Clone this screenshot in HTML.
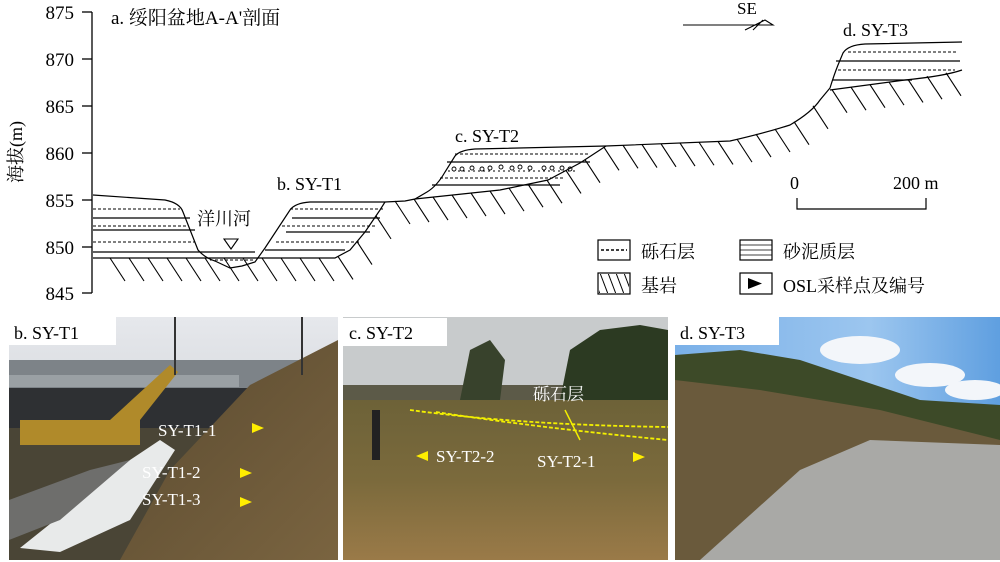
<!DOCTYPE html>
<html><head><meta charset="utf-8"><style>
body{margin:0;width:1000px;height:562px;background:#fff;overflow:hidden}
svg{display:block}
text{font-family:"Liberation Serif","Noto Serif CJK SC","Noto Sans CJK SC",serif;fill:#000}
</style></head><body>
<svg width="1000" height="562" viewBox="0 0 1000 562">
<defs>
<pattern id="hat" width="8" height="21" patternUnits="userSpaceOnUse">
<line x1="0" y1="0" x2="8" y2="21" stroke="#000" stroke-width="1"/>
</pattern>
<linearGradient id="skyb" x1="0" y1="0" x2="0" y2="1"><stop offset="0" stop-color="#e6e8ec"/><stop offset="1" stop-color="#bfc3c8"/></linearGradient>
<linearGradient id="skyd" x1="0" y1="0" x2="1" y2="0"><stop offset="0" stop-color="#7ab0e8"/><stop offset="0.6" stop-color="#9cc6ef"/><stop offset="1" stop-color="#5f9fe0"/></linearGradient>
<linearGradient id="soilb" x1="0" y1="0" x2="1" y2="1"><stop offset="0" stop-color="#5a4a30"/><stop offset="1" stop-color="#7a6440"/></linearGradient>
<linearGradient id="soilc" x1="0" y1="0" x2="0" y2="1"><stop offset="0" stop-color="#6d6238"/><stop offset="0.5" stop-color="#7b6a3c"/><stop offset="1" stop-color="#9a7a48"/></linearGradient>
</defs>
<!-- axis -->
<g stroke="#000" stroke-width="1.3" fill="none">
<line x1="92" y1="12" x2="92" y2="293"/>
<line x1="82" y1="12" x2="92" y2="12"/><line x1="82" y1="59" x2="92" y2="59"/><line x1="82" y1="106" x2="92" y2="106"/><line x1="82" y1="153" x2="92" y2="153"/><line x1="82" y1="200" x2="92" y2="200"/><line x1="82" y1="247" x2="92" y2="247"/><line x1="82" y1="293" x2="92" y2="293"/>
</g>
<g font-size="19" text-anchor="end">
<text x="74" y="19">875</text><text x="74" y="66">870</text><text x="74" y="113">865</text><text x="74" y="160">860</text><text x="74" y="207">855</text><text x="74" y="254">850</text><text x="74" y="300">845</text>
</g>
<text font-size="18" transform="translate(22,152) rotate(-90)" text-anchor="middle">海拔(m)</text>
<text x="111" y="24" font-size="19">a. 绥阳盆地A-A'剖面</text>
<g id="hatches" stroke="#000" stroke-width="1.1"></g>
<!-- profile -->
<g stroke="#000" stroke-width="1.2" fill="none">
<path d="M93,195 L165,200 Q180,203 183,212 L198,250 Q205,258 215,261 L230,268 L242,266 L255,262 L265,248 L290,210 Q295,203 310,202 L385,202 L405,201 L415,199 L427,192 Q437,186 445,172 L455,156 Q460,150 475,149 L606,146 L730,141 Q765,133 790,125 Q812,112 820,100 L830,88 Q834,75 838,65 L843,53 Q848,45 865,44 L962,42"/>
<path d="M93,258 L335,258 L350,250 L365,232 L380,210 L385,202"/>
<path d="M415,199 L500,190 L548,180 L580,163 L606,146"/>
<path d="M830,90 L905,80 Q945,76 962,70"/>
<line x1="93" y1="252" x2="255" y2="252"/>
<line x1="93" y1="230" x2="195" y2="230"/><line x1="93" y1="218" x2="190" y2="218"/>
<line x1="265" y1="250" x2="345" y2="250"/><line x1="286" y1="232" x2="370" y2="232"/><line x1="292" y1="218" x2="380" y2="218"/>
<line x1="432" y1="185" x2="560" y2="185"/><line x1="447" y1="162" x2="590" y2="162"/>
<line x1="836" y1="61" x2="960" y2="61"/><line x1="833" y1="80" x2="912" y2="80"/>
</g>
<g stroke="#000" stroke-width="1" stroke-dasharray="3,2" fill="none">
<line x1="93" y1="209" x2="180" y2="209"/><line x1="93" y1="226" x2="188" y2="226"/><line x1="93" y1="242" x2="195" y2="242"/><line x1="210" y1="260" x2="255" y2="260"/>
<line x1="290" y1="209" x2="383" y2="209"/><line x1="282" y1="226" x2="375" y2="226"/><line x1="276" y1="242" x2="360" y2="242"/>
<line x1="455" y1="154" x2="590" y2="154"/><line x1="440" y1="178" x2="565" y2="178"/>
<line x1="848" y1="52" x2="958" y2="52"/><line x1="838" y1="70" x2="955" y2="70"/>
</g>
<g fill="none" stroke="#000" stroke-width="0.9">
<circle cx="454" cy="169" r="2"/><circle cx="462" cy="169" r="2"/><circle cx="472" cy="168" r="2"/><circle cx="482" cy="169" r="2"/><circle cx="490" cy="168" r="2"/><circle cx="501" cy="167" r="2"/><circle cx="512" cy="168" r="2"/><circle cx="520" cy="167" r="2"/><circle cx="530" cy="168" r="2"/><circle cx="544" cy="168" r="2"/><circle cx="552" cy="168" r="2"/><circle cx="562" cy="168" r="2"/><circle cx="570" cy="169" r="2"/>
</g>
<line x1="448" y1="171" x2="578" y2="171" stroke="#000" stroke-dasharray="2,3"/>
<path d="M224,239 L238,239 L231,249 Z" fill="#fff" stroke="#000" stroke-width="1.1"/>
<text x="197" y="225" font-size="18">洋川河</text>
<text x="277" y="190" font-size="18">b. SY-T1</text>
<text x="455" y="142" font-size="18">c. SY-T2</text>
<text x="843" y="36" font-size="18">d. SY-T3</text>
<text x="737" y="14" font-size="17">SE</text>
<g stroke="#000" stroke-width="1.1" fill="none"><path d="M683,25 L773,25 L765,20 L745,30 M753,30 L763,20"/></g>
<text x="790" y="189" font-size="18">0</text><text x="893" y="189" font-size="18">200 m</text>
<path d="M797,198 L797,209 L926,209 L926,198" stroke="#000" stroke-width="1.2" fill="none"/>
<!-- legend -->
<g stroke="#000" stroke-width="1.2" fill="#fff">
<rect x="598" y="240" width="32" height="20"/><rect x="740" y="240" width="32" height="20"/>
<rect x="598" y="273" width="32" height="21"/><rect x="740" y="273" width="32" height="21"/>
</g>
<line x1="601" y1="250" x2="627" y2="250" stroke="#000" stroke-dasharray="3,2" stroke-width="1.5"/>
<g stroke="#000" stroke-width="0.8"><line x1="740" y1="245" x2="772" y2="245"/><line x1="740" y1="250" x2="772" y2="250"/><line x1="740" y1="255" x2="772" y2="255"/></g>
<rect x="599" y="274" width="30" height="19" fill="url(#hat)"/>
<path d="M748,278 L762,283.5 L748,289 Z" fill="#000"/>
<text x="641" y="258" font-size="18">砾石层</text><text x="783" y="258" font-size="18">砂泥质层</text>
<text x="641" y="292" font-size="18">基岩</text><text x="783" y="292" font-size="18">OSL采样点及编号</text>
<!-- photo b -->
<g>
<rect x="9" y="317" width="329" height="243" fill="url(#skyb)"/>
<rect x="9" y="360" width="329" height="30" fill="#7d8388"/>
<rect x="9" y="375" width="230" height="12" fill="#9aa0a4"/>
<rect x="9" y="388" width="260" height="40" fill="#2e3033"/>
<path d="M9,428 L338,428 L338,560 L9,560 Z" fill="#4a4536"/>
<path d="M170,470 L250,385 L338,340 L338,560 L120,560 Z" fill="url(#soilb)"/>
<path d="M20,548 L80,500 L130,460 L160,440 L175,450 L130,520 L60,552 Z" fill="#e8eaea"/>
<path d="M9,500 L90,470 L130,460 L60,520 L9,540 Z" fill="#6e6e6c"/>
<path d="M20,420 L110,420 L170,365 L178,372 L140,420 L140,445 L20,445 Z" fill="#b08a2a"/>
<line x1="175" y1="317" x2="175" y2="375" stroke="#333" stroke-width="2"/>
<line x1="302" y1="317" x2="302" y2="375" stroke="#333" stroke-width="2"/>
<rect x="9" y="317" width="107" height="28" fill="#fff"/>
<text x="14" y="339" font-size="18">b. SY-T1</text>
<g font-size="17"><text x="158" y="436" style="fill:#fff">SY-T1-1</text><text x="142" y="478" style="fill:#fff">SY-T1-2</text><text x="142" y="505" style="fill:#fff">SY-T1-3</text></g>
<g fill="#ffee00"><path d="M252,423 L264,428 L252,433Z"/><path d="M240,468 L252,473 L240,478Z"/><path d="M240,497 L252,502 L240,507Z"/></g>
</g>
<!-- photo c -->
<g>
<rect x="343" y="317" width="325" height="243" fill="#c8cbcc"/>
<rect x="343" y="385" width="325" height="20" fill="#5c5a48"/>
<path d="M560,400 L570,350 L600,330 L640,325 L668,330 L668,405 Z" fill="#2c3a22"/>
<path d="M460,400 L470,350 L490,340 L505,360 L500,400 Z" fill="#38422c"/>
<rect x="343" y="400" width="325" height="160" fill="url(#soilc)"/>
<rect x="343" y="318" width="104" height="28" fill="#fff"/>
<text x="349" y="339" font-size="18">c. SY-T2</text>
<g fill="none" stroke="#f3f000" stroke-width="1.8" stroke-dasharray="4,2"><path d="M410,410 Q520,425 668,427"/><path d="M436,404 Q540,420 668,432" transform="translate(0,8)"/></g>
<line x1="565" y1="410" x2="580" y2="440" stroke="#f3f000" stroke-width="1.5"/>
<text x="533" y="400" font-size="17" style="fill:#fff">砾石层</text>
<text x="436" y="462" font-size="17" style="fill:#fff">SY-T2-2</text><text x="537" y="467" font-size="17" style="fill:#fff">SY-T2-1</text>
<g fill="#ffee00"><path d="M428,451 L416,456 L428,461Z"/><path d="M633,452 L645,457 L633,462Z"/></g>
<rect x="372" y="410" width="8" height="50" fill="#222"/>
</g>
<!-- photo d -->
<g>
<rect x="675" y="317" width="325" height="243" fill="url(#skyd)"/>
<ellipse cx="860" cy="350" rx="40" ry="14" fill="#f3f6fa"/><ellipse cx="930" cy="375" rx="35" ry="12" fill="#f3f6fa"/><ellipse cx="975" cy="390" rx="30" ry="10" fill="#f3f6fa"/>
<path d="M675,355 L740,350 L800,360 L860,380 L920,400 L1000,405 L1000,440 L675,440 Z" fill="#3d4a28"/>
<path d="M675,380 L760,390 L880,410 L1000,440 L1000,560 L675,560 Z" fill="#6a5a3c"/>
<path d="M700,560 L800,470 L870,440 L1000,445 L1000,560 Z" fill="#a9a9a6"/>
<rect x="675" y="317" width="104" height="28" fill="#fff"/>
<text x="680" y="339" font-size="18">d. SY-T3</text>
</g>
</svg>
<script>
(function(){
var p=[[100,258],[335,258],[350,250],[365,232],[380,210],[385,202],[415,199],[500,190],[548,180],[580,163],[606,146],[730,141],[790,125],[820,100],[830,90],[905,80],[962,70]];
function f(x){for(var i=0;i<p.length-1;i++){if(x>=p[i][0]&&x<=p[i+1][0]){var t=(x-p[i][0])/(p[i+1][0]-p[i][0]);return p[i][1]+t*(p[i+1][1]-p[i][1]);}}return p[p.length-1][1];}
var g=document.getElementById('hatches'),s='';
for(var x=110;x<=950;x+=19){var y=f(x);s+='<line x1="'+x+'" y1="'+y+'" x2="'+(x+15)+'" y2="'+(y+23)+'"/>';}
g.innerHTML=s;
})();
</script>
</body></html>
